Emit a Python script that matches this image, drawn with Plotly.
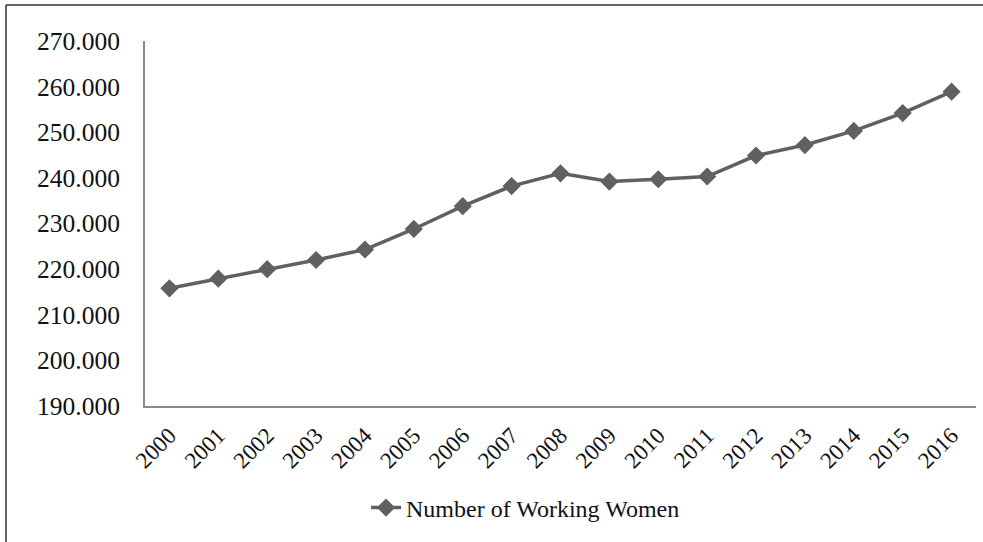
import plotly.graph_objects as go

years = [str(y) for y in range(2000, 2017)]
working_women = [215.8, 217.9, 220.0, 222.0, 224.3, 228.8, 233.8, 238.2, 241.0,
                 239.2, 239.7, 240.3, 244.9, 247.2, 250.3, 254.2, 258.9]
y_tick_vals = [190, 200, 210, 220, 230, 240, 250, 260, 270]
y_tick_text = ["190.000", "200.000", "210.000", "220.000", "230.000",
               "240.000", "250.000", "260.000", "270.000"]
series_name = "Number of Working Women"

W, H = 983, 542
L, R, T, B = 145, 7, 41, 136
pw, ph = W - L - R, H - T - B

fig = go.Figure()
fig.add_trace(go.Scatter(
    x=years, y=working_women, mode="lines+markers", name=series_name,
    line=dict(color="#606060", width=3.5),
    marker=dict(symbol="diamond", size=14, color="#606060"),
))

font_family = "Liberation Serif"
fig.update_layout(
    width=W, height=H,
    margin=dict(l=L, r=R, t=T, b=B),
    paper_bgcolor="white", plot_bgcolor="white",
    font=dict(family=font_family, color="#111111"),
    showlegend=True,
    legend=dict(orientation="h", x=(366 - L) / pw, xanchor="left",
                y=(406 - 508) / ph, yanchor="middle",
                font=dict(size=24, family=font_family, color="#111111"),
                bgcolor="rgba(0,0,0,0)"),
    xaxis=dict(type="category", range=[-0.5, 16.5], showgrid=False,
               showline=True, linecolor="#8a8a8a", linewidth=2,
               ticks="", tickangle=-45, ticklabelstandoff=5,
               tickfont=dict(size=23, family=font_family, color="#111111"),
               zeroline=False, fixedrange=True),
    yaxis=dict(range=[190, 270], tickvals=y_tick_vals, ticktext=y_tick_text,
               showgrid=False, showline=True, linecolor="#8a8a8a", linewidth=2,
               ticks="", ticklabelstandoff=18,
               tickfont=dict(size=25.5, family=font_family, color="#111111"),
               zeroline=False, fixedrange=True),
)

# outer chart border (left and top edges visible in the reference)
bx = (6 - L) / pw
by_top = 1 + (T - 5) / ph
by_bot = (T + ph - H - 2) / ph
fig.add_shape(type="line", xref="paper", yref="paper", x0=bx, x1=bx,
              y0=by_bot, y1=by_top, line=dict(color="#333333", width=1.5))
fig.add_shape(type="line", xref="paper", yref="paper", x0=bx, x1=(W + 2 - L) / pw,
              y0=by_top, y1=by_top, line=dict(color="#333333", width=1.5))

fig.write_html("out.html")
